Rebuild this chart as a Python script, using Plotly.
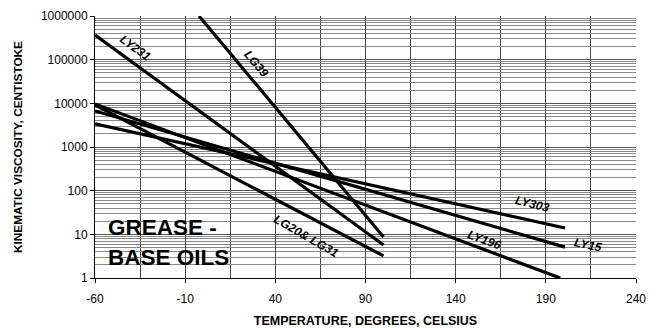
import plotly.graph_objects as go

# Base-oil viscosity lines: temperature endpoints (deg C) and viscosity (cSt)
series_names = ["LY231", "LG39", "LG20& LG31", "LY196", "LY15", "LY303"]
temp_start = [-60, -2.3, -60, -60, -60, -60]
temp_end = [100, 100, 100, 198, 200.6, 200.6]
visc_start = [367000, 1000000, 9200, 9700, 6700, 3400]
visc_end = [5.7, 8.7, 3.2, 1.0, 5.1, 14]

x_tick_vals = [-60, -10, 40, 90, 140, 190, 240]
x_tick_text = ["-60", "-10", "40", "90", "140", "190", "240"]
y_tick_vals = [1, 10, 100, 1000, 10000, 100000, 1000000]
y_tick_text = ["1", "10", "100", "1000", "10000", "100000", "1000000"]

# label placement: (temperature, log10 viscosity, rotation)
label_pos = {
    "LY231": (-37.5, 5.27, 36),
    "LG39": (29.5, 4.90, 50),
    "LG20& LG31": (57, 0.96, 30),
    "LY196": (156, 0.87, 20),
    "LY15": (213.5, 0.76, 12),
    "LY303": (182.5, 1.70, 14),
}

fig = go.Figure()
for name, x0, x1, y0, y1 in zip(series_names, temp_start, temp_end, visc_start, visc_end):
    fig.add_trace(go.Scatter(
        x=[x0, x1], y=[y0, y1], mode="lines", name=name,
        line=dict(color="black", width=3.2), showlegend=False,
    ))
    lx, ly, ang = label_pos[name]
    fig.add_annotation(
        x=lx, y=ly, text=name, showarrow=False, textangle=ang,
        font=dict(family="Liberation Sans, Arial", size=12, color="black",
                  weight="bold", style="italic"),
    )

fig.add_annotation(x=-54, y=1.15, text="GREASE -", showarrow=False, xanchor="left",
                   font=dict(family="Liberation Sans, Arial", size=22.5, color="black", weight="bold"))
fig.add_annotation(x=-54, y=0.46, text="BASE OILS", showarrow=False, xanchor="left",
                   font=dict(family="Liberation Sans, Arial", size=22.5, color="black", weight="bold"))

fig.update_layout(
    width=658, height=328,
    margin=dict(l=95, r=22, t=16, b=50),
    paper_bgcolor="white", plot_bgcolor="white",
    font=dict(family="Liberation Sans, Arial", size=12, color="black"),
    xaxis=dict(
        range=[-60, 240], tickvals=x_tick_vals, ticktext=x_tick_text,
        ticks="outside", ticklen=4, ticklabelstandoff=6, automargin=False,
        tickcolor="black", showline=True, linecolor="black", linewidth=1,
        showgrid=True, gridcolor="#444", gridwidth=1, zeroline=False,
        minor=dict(dtick=25, tick0=-60, showgrid=True, gridcolor="#444", gridwidth=1),
        title=dict(text="<b>TEMPERATURE, DEGREES, CELSIUS</b>", font=dict(size=12.5), standoff=11),
    ),
    yaxis=dict(
        type="log", range=[0, 6], tickvals=y_tick_vals, ticktext=y_tick_text,
        ticks="outside", ticklen=4, tickcolor="black", automargin=False,
        showline=True, linecolor="black", linewidth=1,
        showgrid=True, gridcolor="#555", gridwidth=1, zeroline=False,
        minor=dict(dtick="D1", showgrid=True, gridcolor="#888", gridwidth=1, ticks=""),
        title=dict(text="<b>KINEMATIC VISCOSITY, CENTISTOKE</b>", font=dict(size=11.8), standoff=15),
    ),
)

fig.write_html("out.html")
